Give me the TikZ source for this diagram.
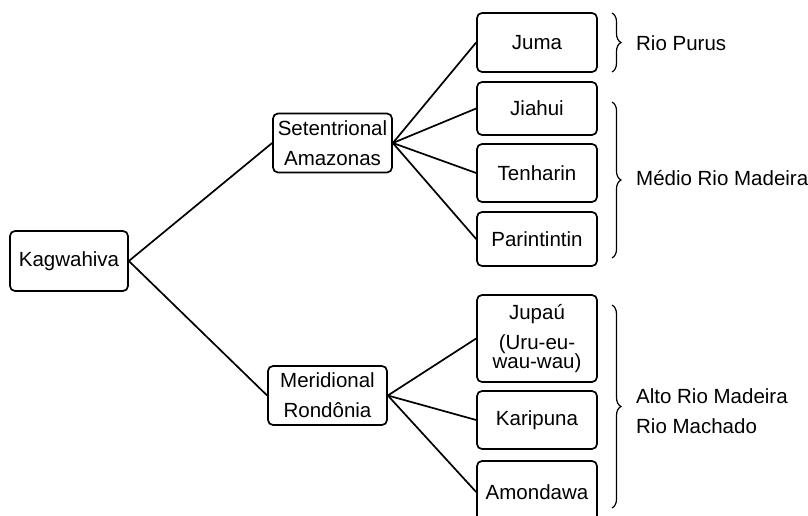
\documentclass[tikz,border=0pt]{standalone}
\usepackage{fontspec}
\setmainfont{Liberation Sans}
\usetikzlibrary{decorations.pathreplacing}

\begin{document}
\begin{tikzpicture}[x=1pt,y=-1pt,line width=1.7pt,
  every node/.style={font=\fontsize{20.5}{30}\selectfont},
  box/.style={draw,rounded corners=5pt,minimum width=120pt,align=center,inner sep=0pt},
  brc/.style={decorate,decoration={brace,amplitude=9pt},line width=1.2pt}]
\useasboundingbox (0,0) rectangle (808,516);
\node[box,minimum width=118pt,minimum height=60pt] (kag) at (69,261) {Kagwahiva};
\node[box,minimum width=119pt,minimum height=59pt] (set) at (332.5,143) {Setentrional\\Amazonas};
\node[box,minimum width=119pt,minimum height=59pt] (mer) at (327.5,395.5) {Meridional\\Rondônia};
\node[box,minimum height=59pt] (juma) at (537,42.5) {Juma};
\node[box,minimum height=53pt] (jia) at (537,108.5) {Jiahui};
\node[box,minimum height=58pt] (ten) at (537,173) {Tenharin};
\node[box,minimum height=54pt] (par) at (537,239) {Parintintin};
\node[box,minimum height=87pt] (jup) at (537,338.5) {Jupaú\\(Uru-eu-\\[-11pt]wau-wau)};
\node[box,minimum height=58pt] (kar) at (537,420) {Karipuna};
\node[box,minimum height=62pt] (amo) at (537,492) {Amondawa};
\draw (kag.east) -- (set.west);
\draw (kag.east) -- (mer.west);
\foreach \c in {juma,jia,ten,par} \draw (set.east) -- (\c.west);
\foreach \c in {jup,kar,amo} \draw (mer.east) -- (\c.west);
\draw[brc] (612,13) -- (612,72);
\draw[brc] (612,102) -- (612,258);
\draw[brc] (612,305) -- (612,508);
\node[anchor=west] (purus) at (632,43) {Rio Purus};
\node[anchor=west] (medio) at (632,178) {Médio Rio Madeira};
\node[anchor=west,align=left] (alto) at (632,411) {Alto Rio Madeira\\Rio Machado};
\end{tikzpicture}
\end{document}
